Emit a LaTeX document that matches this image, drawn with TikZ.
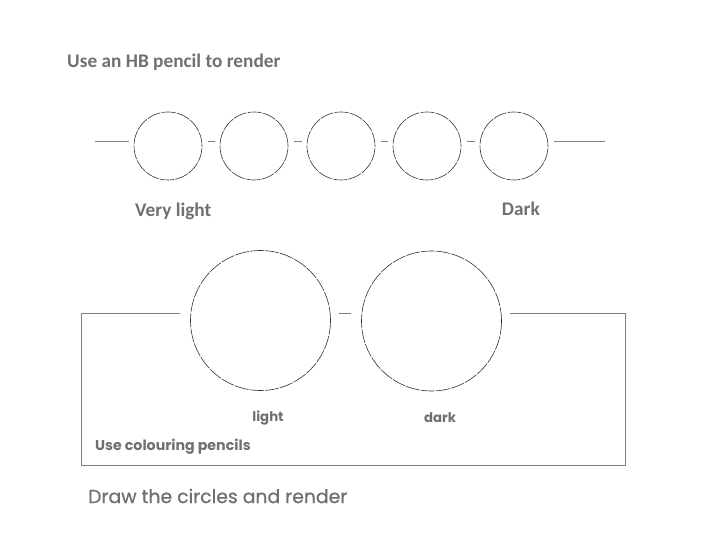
\documentclass[tikz,border=0pt]{standalone}
\usepackage{fontspec}
\setmainfont{Carlito}
\newfontfamily\geo{Poppins}
\newfontfamily\geom[FakeBold=0.8]{Poppins}
\usetikzlibrary{calc}
\definecolor{txtgray}{HTML}{707070}
\definecolor{linegray}{HTML}{808080}
\definecolor{circgray}{HTML}{303030}
\tikzset{
  ring/.style={circle, draw=circgray, line width=0.6pt, dash pattern=on 14pt off 1.2pt, inner sep=0pt},
  smallring/.style={ring, minimum size=68pt},
  bigring/.style={ring, minimum size=140pt},
  link/.style={draw=linegray, line width=0.9pt},
  hbtext/.style={text=txtgray, font=\bfseries\fontsize{19.3}{21}\selectfont, inner sep=0pt},
  geotext/.style={text=txtgray, font=\geo\bfseries\fontsize{13.3}{15}\selectfont, inner sep=0pt},
}
\begin{document}
\begin{tikzpicture}[x=1pt,y=-1pt]
\useasboundingbox (0,0) rectangle (720,540);
% top row
\node[smallring] (c1) at (168,146) {};
\node[smallring] (c2) at (254,146) {};
\node[smallring] (c3) at (341,146) {};
\node[smallring] (c4) at (427,146) {};
\node[smallring] (c5) at (514,146) {};
\coordinate (l0) at (95,141);
\coordinate (r0) at (605,141);
\draw[link] (l0) -- ($(c1.west)+(-5,-5)$);
\foreach \a/\b in {c1/c2,c2/c3,c3/c4,c4/c5}{
  \draw[link] ($(\a.east)+(6,-5)$) -- ($(\b.west)+(-5,-5)$);
}
\draw[link] ($(c5.east)+(6,-5)$) -- (r0);
% big circles
\node[bigring] (b1) at (260.5,320.5) {};
\node[bigring] (b2) at (431.5,321) {};
\coordinate (bl) at (81,313);
\coordinate (br) at (625.5,313);
\coordinate (bbl) at (81,465);
\coordinate (bbr) at (625.5,465);
\draw[link] ($(b1.west)+(-10,-7.5)$) -- (bl) -- (bbl) -- (bbr) -- (br) -- ($(b2.east)+(8,-8)$);
\draw[link] ($(b1.east)+(8,-7.5)$) -- ($(b2.west)+(-10,-8)$);
% texts
\node[hbtext, anchor=west] (t1) at (67,62) {Use an HB pencil to render};
\node[hbtext, anchor=west] (t2) at (135,211) {Very light};
\node[hbtext, anchor=east] (t3) at (540,209) {Dark};
\node[geotext, anchor=center] (t4) at (268,418) {light};
\node[geotext, anchor=center] (t5) at (440,418) {dark};
\node[geotext, font=\geo\bfseries\fontsize{14.2}{16}\selectfont, anchor=west] (t6) at (95,447) {Use colouring pencils};
\node[text=txtgray, font=\geom\fontsize{18.8}{21}\selectfont, inner sep=0pt, anchor=west] (t7) at (88,496) {Draw the circles and render};
\end{tikzpicture}
\end{document}
